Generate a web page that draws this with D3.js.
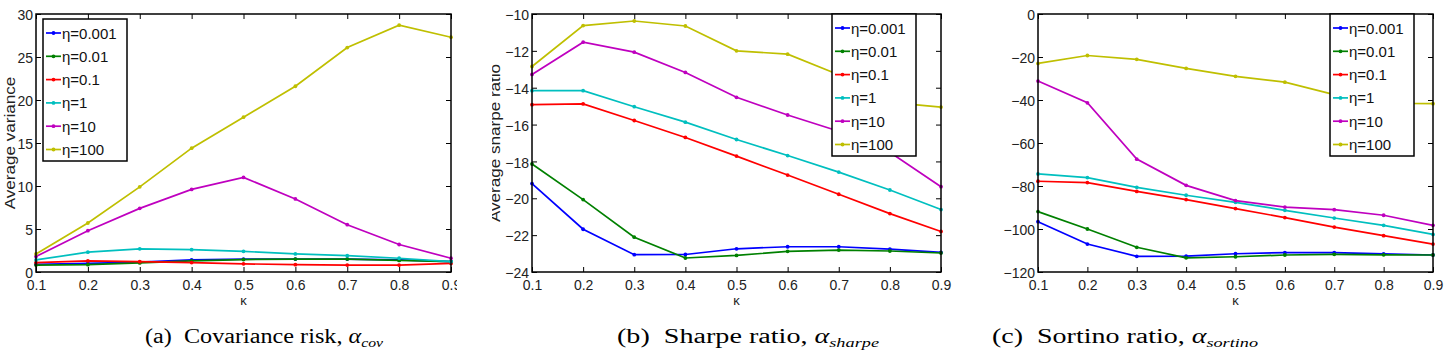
<!DOCTYPE html>
<html>
<head>
<meta charset="utf-8">
<script src="https://cdn.jsdelivr.net/npm/d3@7"></script>
<style>
  body { margin: 0; background: #fff; }
  svg { display: block; }
</style>
</head>
<body>
<div id="chart"></div>
<script>
// x values shared by all three panels
const kappa = [0.1, 0.2, 0.3, 0.4, 0.5, 0.6, 0.7, 0.8, 0.9];
const etaLabels = ["η=0.001", "η=0.01", "η=0.1", "η=1", "η=10", "η=100"];
const seriesColors = ["#0000ff", "#008000", "#ff0000", "#00bfbf", "#bf00bf", "#bfbf00"];

// (a) average variance, one row per eta
const varianceData = [
  [0.9, 1.0, 1.15, 1.4, 1.5, 1.5, 1.5, 1.4, 1.2],
  [0.8, 0.85, 1.05, 1.3, 1.45, 1.5, 1.5, 1.35, 1.2],
  [1.1, 1.3, 1.2, 1.1, 0.95, 0.85, 0.8, 0.8, 1.0],
  [1.4, 2.3, 2.7, 2.6, 2.4, 2.1, 1.9, 1.6, 1.2],
  [1.8, 4.8, 7.4, 9.6, 11.0, 8.5, 5.5, 3.2, 1.6],
  [2.1, 5.7, 9.9, 14.4, 18.0, 21.6, 26.1, 28.7, 27.3]
];

// (b) average sharpe ratio
const sharpeData = [
  [-19.2, -21.68, -23.06, -23.05, -22.74, -22.63, -22.63, -22.76, -22.94],
  [-18.14, -20.07, -22.11, -23.24, -23.1, -22.88, -22.81, -22.86, -22.97],
  [-14.92, -14.88, -15.78, -16.7, -17.71, -18.74, -19.78, -20.83, -21.8],
  [-14.16, -14.16, -15.03, -15.87, -16.81, -17.68, -18.58, -19.55, -20.61],
  [-13.28, -11.53, -12.07, -13.17, -14.52, -15.48, -16.36, -17.5, -19.37],
  [-12.85, -10.63, -10.38, -10.65, -12.0, -12.18, -13.3, -14.8, -15.05]
];

// (c) average sortino ratio
const sortinoData = [
  [-96.6, -107.0, -112.7, -112.6, -111.5, -111.0, -111.0, -111.6, -112.1],
  [-91.9, -100.0, -108.5, -113.4, -112.9, -112.1, -111.8, -112.0, -112.1],
  [-77.8, -78.4, -82.5, -86.3, -90.5, -94.7, -99.1, -103.1, -107.0],
  [-74.4, -76.1, -80.6, -84.3, -87.6, -91.3, -94.9, -98.3, -102.5],
  [-31.2, -41.3, -67.5, -79.7, -86.8, -89.8, -91.0, -93.6, -98.3],
  [-23.0, -19.3, -21.1, -25.3, -29.0, -31.7, -37.5, -41.5, -41.7]
];

const varianceTicks = [0, 5, 10, 15, 20, 25, 30];
const sharpeTicks = [-24, -22, -20, -18, -16, -14, -12, -10];
const sortinoTicks = [-120, -100, -80, -60, -40, -20, 0];

const width = 1444;
const height = 353;
const plotTop = 14;
const plotBottom = 272;

const svg = d3.select("#chart")
  .append("svg")
  .attr("width", width)
  .attr("height", height)
  .style("font-family", "'Liberation Sans', Arial, sans-serif");

const panels = [
  { data: varianceData, yTicks: varianceTicks, yLabel: "Average variance",
    left: 36, right: 451, yLabX: 15, legX: 43, legY: 19, clipRight: 457,
    capX: 264, capW: 238, capText: "(a)  Covariance risk, ", capSub: "cov" },
  { data: sharpeData, yTicks: sharpeTicks, yLabel: "Average sharpe ratio",
    left: 532, right: 941, yLabX: 500, legX: 832, legY: 14, clipRight: 960,
    capX: 748, capW: 262, capText: "(b)  Sharpe ratio, ", capSub: "sharpe" },
  { data: sortinoData, yTicks: sortinoTicks, yLabel: "Average sortino ratio",
    left: 1038, right: 1433, yLabX: 993, legX: 1330, legY: 14, clipRight: 1444,
    capX: 1125, capW: 266, capText: "(c)  Sortino ratio, ", capSub: "sortino" }
];

panels.forEach((p, pi) => {
  const clipId = "clip" + pi;
  svg.append("clipPath").attr("id", clipId)
    .append("rect").attr("x", p.left - 40).attr("y", 0)
    .attr("width", p.clipRight - p.left + 40).attr("height", 310);

  const g = svg.append("g").attr("clip-path", `url(#${clipId})`);

  const x = d3.scaleLinear().domain([0.1, 0.9]).range([p.left, p.right]);
  const y = d3.scaleLinear()
    .domain(d3.extent(p.yTicks))
    .range([plotBottom, plotTop]);

  // axes with inward ticks on all four sides
  const tickLen = 5;
  const xb = g.append("g").attr("transform", `translate(0,${plotBottom})`)
    .call(d3.axisBottom(x).tickValues(kappa).tickSizeInner(-tickLen).tickSizeOuter(0)
      .tickPadding(8).tickFormat(d3.format(".1f")));
  const xt = g.append("g").attr("transform", `translate(0,${plotTop})`)
    .call(d3.axisTop(x).tickValues(kappa).tickSizeInner(-tickLen).tickSizeOuter(0)
      .tickFormat(""));
  const yl = g.append("g").attr("transform", `translate(${p.left},0)`)
    .call(d3.axisLeft(y).tickValues(p.yTicks).tickSizeInner(-tickLen).tickSizeOuter(0)
      .tickPadding(3).tickFormat(d => d3.format("d")(d).replace("-", "\u2212")));
  const yr = g.append("g").attr("transform", `translate(${p.right},0)`)
    .call(d3.axisRight(y).tickValues(p.yTicks).tickSizeInner(-tickLen).tickSizeOuter(0)
      .tickFormat(""));

  [xb, xt, yl, yr].forEach(a => {
    a.select(".domain").remove();
    a.selectAll("line").attr("stroke", "#000").attr("stroke-width", 1);
    a.selectAll("text").attr("fill", "#222").style("font-size", "14px")
      .style("font-family", "'Liberation Sans', Arial, sans-serif");
  });
  yl.selectAll("text").attr("dy", "0.4em");

  // series lines and dot markers
  const line = d3.line().x((d, i) => x(kappa[i])).y(d => y(d));
  p.data.forEach((vals, si) => {
    g.append("path").datum(vals)
      .attr("d", line)
      .attr("fill", "none")
      .attr("stroke", seriesColors[si])
      .attr("stroke-width", 1.7);
    g.selectAll(null).data(vals).join("circle")
      .attr("cx", (d, i) => x(kappa[i]))
      .attr("cy", d => y(d))
      .attr("r", 1.9)
      .attr("fill", seriesColors[si]);
  });

  // box
  g.append("rect")
    .attr("x", p.left).attr("y", plotTop)
    .attr("width", p.right - p.left).attr("height", plotBottom - plotTop)
    .attr("fill", "none").attr("stroke", "#000").attr("stroke-width", 1.5);

  // legend
  const lw = 84, lh = 142, step = 23.3;
  const leg = g.append("g").attr("transform", `translate(${p.legX},${p.legY})`);
  leg.append("rect").attr("width", lw).attr("height", lh)
    .attr("fill", "#fff").attr("stroke", "#000").attr("stroke-width", 1.5);
  etaLabels.forEach((lab, si) => {
    const cy = 14 + si * step;
    leg.append("line").attr("x1", 3).attr("x2", 18).attr("y1", cy).attr("y2", cy)
      .attr("stroke", seriesColors[si]).attr("stroke-width", 1.7);
    leg.append("circle").attr("cx", 10.5).attr("cy", cy).attr("r", 1.9)
      .attr("fill", seriesColors[si]);
    leg.append("text").attr("x", 19).attr("y", cy + 5.5)
      .attr("fill", "#111").style("font-size", "15px").text(lab);
  });

  // axis titles
  g.append("text")
    .attr("transform", `translate(${p.yLabX},143) rotate(-90) scale(1.22,1)`)
    .attr("text-anchor", "middle")
    .attr("fill", "#222").style("font-size", "14px")
    .text(p.yLabel);
  g.append("text")
    .attr("x", (p.left + p.right) / 2).attr("y", 305)
    .attr("text-anchor", "middle")
    .attr("fill", "#222").style("font-size", "13px")
    .text("κ");

  // caption, stretched to the reference's width
  const cap = svg.append("text")
    .attr("x", p.capX - p.capW / 2).attr("y", 343)
    .attr("textLength", p.capW)
    .attr("lengthAdjust", "spacingAndGlyphs")
    .style("font-family", "'Liberation Serif', 'DejaVu Serif', serif")
    .style("font-size", "20px")
    .attr("fill", "#000");
  cap.append("tspan").style("white-space", "pre").text(p.capText);
  cap.append("tspan").style("font-style", "italic").text("α");
  cap.append("tspan").attr("dy", 4).style("font-style", "italic")
    .style("font-size", "13px").text(p.capSub);
});
</script>
</body>
</html>
